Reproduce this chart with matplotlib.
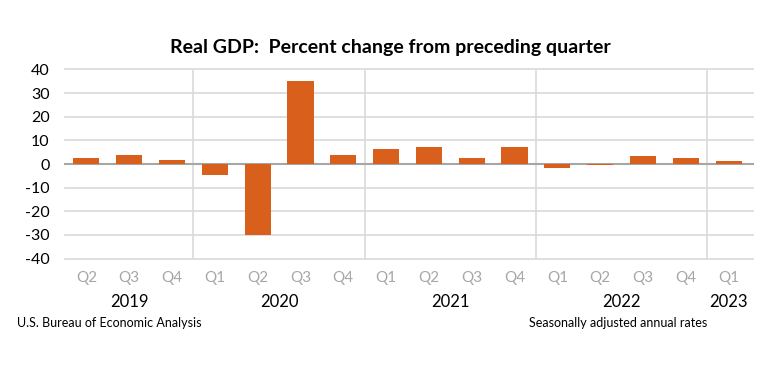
import matplotlib
matplotlib.use("Agg")
import matplotlib.pyplot as plt
import numpy as np

quarters = ["Q2", "Q3", "Q4", "Q1", "Q2", "Q3", "Q4", "Q1", "Q2", "Q3", "Q4",
            "Q1", "Q2", "Q3", "Q4", "Q1"]
gdp_change = [2.7, 3.6, 1.8, -4.6, -29.9, 35.3, 3.9, 6.3, 7.0, 2.7, 7.0,
              -1.6, -0.6, 3.2, 2.6, 1.1]
years = ["2019", "2020", "2021", "2022", "2023"]
year_spans = [(0, 2), (3, 6), (7, 10), (11, 14), (15, 15)]
yticks = [-40, -30, -20, -10, 0, 10, 20, 30, 40]

plt.rcParams['font.family'] = ['Lato', 'DejaVu Sans']

W, H = 776, 373
fig = plt.figure(figsize=(W / 100, H / 100), dpi=100)
left, right = 65, 750
top, bottom = 69.5, 258.5
ax = fig.add_axes([left / W, 1 - bottom / H, (right - left) / W, (bottom - top) / H])

x = np.arange(len(gdp_change))
ax.bar(x, gdp_change, width=0.61, color="#D95F1C", zorder=3)
ax.set_xlim(-0.5, len(gdp_change) - 0.5)
ax.set_ylim(-40, 40)
ax.set_yticks(yticks)
ax.set_yticklabels([str(v) for v in yticks], fontsize=11.5, color="#000000")
for v in yticks:
    if v != 0:
        ax.axhline(v, color="#D9D9D9", lw=1.2, zorder=1, xmin=0, xmax=1.004, clip_on=False)
ax.axhline(0, color="#A6A6A6", lw=1.5, zorder=2, xmin=0, xmax=1.004, clip_on=False)
for b in [2.5, 6.5, 10.5, 14.5]:
    ax.axvline(b, color="#D9D9D9", lw=1.2, zorder=1)

ax.set_xticks(x)
ax.set_xticklabels(quarters, fontsize=11, color="#A6A6A6")
ax.tick_params(axis="x", length=0, pad=9)
ax.tick_params(axis="y", length=0, pad=11)
for s in ax.spines.values():
    s.set_visible(False)

for yr, (a, b) in zip(years, year_spans):
    ax.text((a + b) / 2, -0.23, yr, transform=ax.get_xaxis_transform(),
            ha="center", va="center", fontsize=12, color="#000000")

fig.text(390 / W, 1 - 47 / H, "Real GDP:  Percent change from preceding quarter",
         ha="center", va="center", fontsize=14, fontweight="bold", color="#000000")
fig.text(17 / W, 1 - 323 / H, "U.S. Bureau of Economic Analysis",
         ha="left", va="center", fontsize=9, color="#000000")
fig.text(707 / W, 1 - 323 / H, "Seasonally adjusted annual rates",
         ha="right", va="center", fontsize=9, color="#000000")

fig.savefig("out.png", dpi=100, facecolor="white")
